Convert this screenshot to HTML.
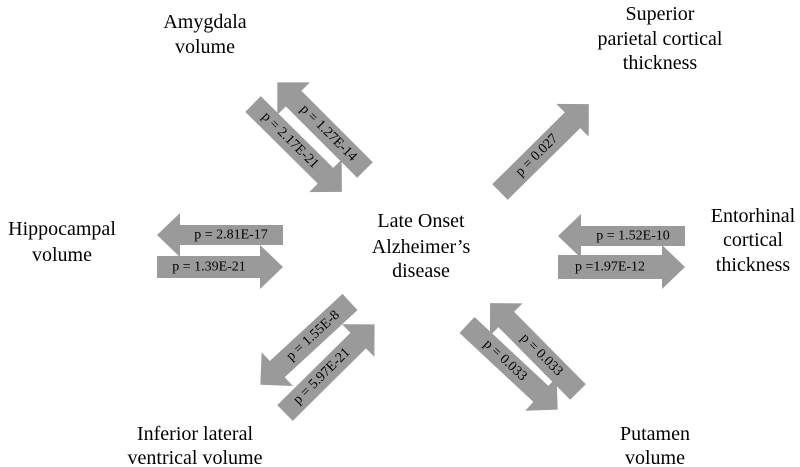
<!DOCTYPE html>
<html><head><meta charset="utf-8"><style>
html,body{margin:0;padding:0;background:#fff;}
svg{display:block;}
text{font-family:"Liberation Serif",serif;fill:#000;}
.a{fill:#9a9a9a;}
.p{font-size:14px;text-anchor:middle;dominant-baseline:central;}
.l{font-size:20px;text-anchor:middle;}
</style></head><body>
<svg width="800" height="467" viewBox="0 0 800 467" xmlns="http://www.w3.org/2000/svg">
<!-- Hippocampal -->
<g transform="translate(283 235) rotate(180)"><polygon class="a" points="0,-10 103,-10 103,-22 126,0 103,22 103,10 0,10"/><text class="p" x="52" y="0" transform="rotate(180 52 0)">p = 2.81E-17</text></g>
<g transform="translate(157 267)"><polygon class="a" points="0,-11 103,-11 103,-22 126,0 103,22 103,11 0,11"/><text class="p" x="52" y="0">p = 1.39E-21</text></g>
<!-- Entorhinal -->
<g transform="translate(685 236) rotate(180)"><polygon class="a" points="0,-10 104,-10 104,-22 127,0 104,22 104,10 0,10"/><text class="p" x="52" y="0" transform="rotate(180 52 0)">p = 1.52E-10</text></g>
<g transform="translate(558 267)"><polygon class="a" points="0,-12 104,-12 104,-22 127,0 104,22 104,12 0,12"/><text class="p" x="52" y="0">p =1.97E-12</text></g>
<!-- Amygdala -->
<g transform="translate(365 170) rotate(-135)"><polygon class="a" points="0,-11 101,-11 101,-23 124,0 101,23 101,11 0,11"/><text class="p" x="52" y="0" transform="rotate(180 52 0)">p = 1.27E-14</text></g>
<g transform="translate(253 104) rotate(44.7)"><polygon class="a" points="0,-11 102,-11 102,-23 125,0 102,23 102,11 0,11"/><text class="p" x="52" y="0">p = 2.17E-21</text></g>
<!-- Superior -->
<g transform="translate(500 192) rotate(-44.7)"><polygon class="a" points="0,-11 102,-11 102,-23 125,0 102,23 102,11 0,11"/><text class="p" x="52" y="0">p = 0.027</text></g>
<!-- Putamen -->
<g transform="translate(578 392) rotate(-134.7)"><polygon class="a" points="0,-11 102,-11 102,-23 125,0 102,23 102,11 0,11"/><text class="p" x="52" y="0" transform="rotate(180 52 0)">p = 0.033</text></g>
<g transform="translate(467 325) rotate(43)"><polygon class="a" points="0,-11 101,-11 101,-23 124,0 101,23 101,11 0,11"/><text class="p" x="52" y="0">p = 0.033</text></g>
<!-- Inferior lateral -->
<g transform="translate(350 302) rotate(137.3)"><polygon class="a" points="0,-11 99,-11 99,-23 122,0 99,23 99,11 0,11"/><text class="p" x="50" y="0" transform="rotate(180 50 0)">p = 1.55E-8</text></g>
<g transform="translate(285 413) rotate(-44.7)"><polygon class="a" points="0,-11 103,-11 103,-23 126,0 103,23 103,11 0,11"/><text class="p" x="52" y="0">p = 5.97E-21</text></g>
<!-- labels -->
<text class="l" x="205" y="28">Amygdala</text>
<text class="l" x="205" y="53">volume</text>
<text class="l" x="660" y="20">Superior</text>
<text class="l" x="660" y="45">parietal cortical</text>
<text class="l" x="660" y="69">thickness</text>
<text class="l" x="62" y="235">Hippocampal</text>
<text class="l" x="62" y="261">volume</text>
<text class="l" x="421" y="227">Late Onset</text>
<text class="l" x="421" y="253">Alzheimer’s</text>
<text class="l" x="421" y="277">disease</text>
<text class="l" x="753" y="222">Entorhinal</text>
<text class="l" x="753" y="246">cortical</text>
<text class="l" x="753" y="271">thickness</text>
<text class="l" x="195" y="440">Inferior lateral</text>
<text class="l" x="195" y="464">ventrical volume</text>
<text class="l" x="655" y="440">Putamen</text>
<text class="l" x="655" y="464">volume</text>
</svg>
</body></html>
